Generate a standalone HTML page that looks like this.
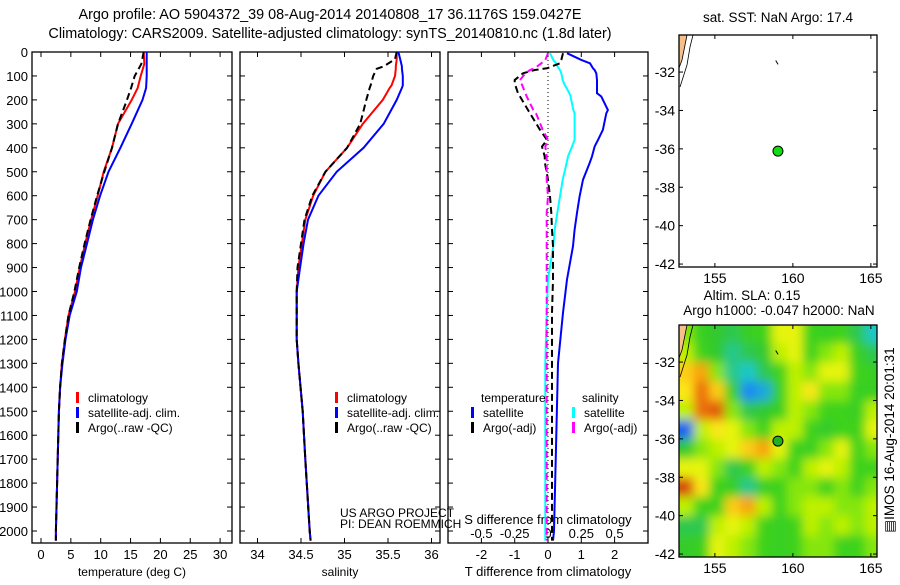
<!DOCTYPE html>
<html><head><meta charset="utf-8"><style>
body{margin:0;background:#fff;width:900px;height:580px;overflow:hidden}
svg text{font-family:"Liberation Sans",sans-serif;font-size:12px;fill:#000}
</style></head><body>
<svg id="c" width="900" height="580" xmlns="http://www.w3.org/2000/svg">
<text x="330" y="19" text-anchor="middle" style="font-size:14.4px">Argo profile: AO 5904372_39 08-Aug-2014 20140808_17 36.1176S 159.0427E</text>
<text x="330" y="38" text-anchor="middle" style="font-size:14.4px">Climatology: CARS2009. Satellite-adjusted climatology: synTS_20140810.nc (1.8d later)</text>
</svg>
<script>
// ---- data ----
const tDepth=[0,50,100,150,200,300,400,500,600,700,800,900,1000,1100,1200,1300,1400,1500,1600,1800,2000,2040];
const tClim=[17.2,17.3,16.7,16.2,15.2,12.9,11.9,10.5,9.5,8.4,7.4,6.5,5.7,4.6,4.0,3.5,3.2,3.0,2.9,2.7,2.5,2.5];
const tSat=[17.7,17.7,17.7,17.6,17.0,15.2,13.3,11.3,9.9,8.7,7.7,6.7,6.0,4.8,4.1,3.6,3.2,3.0,2.9,2.7,2.5,2.5];
const tArgo=[17.2,16.8,15.7,15.1,14.4,12.9,11.9,10.6,9.4,8.3,7.3,6.4,5.6,4.6,4.0,3.5,3.2,3.0,2.9,2.7,2.5,2.5];
const sDepth=[0,30,60,70,100,140,150,200,300,400,500,600,700,800,900,1000,1200,1300,1500,1700,2000,2040];
const sClim=[35.6,35.6,35.59,35.59,35.58,35.54,35.52,35.44,35.21,35.03,34.78,34.64,34.55,34.51,34.47,34.45,34.45,34.47,34.52,34.55,34.6,34.61];
const sSat=[35.62,35.64,35.66,35.66,35.67,35.67,35.66,35.6,35.45,35.22,34.91,34.7,34.58,34.53,34.49,34.45,34.45,34.47,34.52,34.55,34.6,34.61];
const sArgo=[35.6,35.58,35.45,35.37,35.33,35.3,35.29,35.25,35.18,35.03,34.78,34.63,34.54,34.5,34.46,34.45,34.45,34.47,34.52,34.55,34.6,34.61];
const dDepth=[5,33,47,68,75,89,117,131,172,186,242,256,325,367,395,436,464,533,603,672,742,811,950,1089,1300,1600,2000,2040];
const dTsat=[0.57,1.0,1.26,1.35,1.4,1.45,1.47,1.47,1.47,1.6,1.8,1.75,1.65,1.5,1.4,1.32,1.25,1.05,0.95,0.87,0.8,0.75,0.57,0.45,0.3,0.25,0.18,0.15];
const dTargo=[0.45,0.4,0.36,-0.03,-0.4,-0.75,-1.0,-1.0,-0.9,-0.84,-0.6,-0.54,-0.24,-0.03,-0.18,-0.1,-0.09,0.0,0.06,0.1,0.12,0.15,0.15,0.12,0.12,0.12,0.12,0.12];
const dSsat=[0.015,0.04,0.06,0.08,0.09,0.1,0.11,0.12,0.16,0.17,0.19,0.2,0.2,0.2,0.18,0.15,0.14,0.11,0.09,0.07,0.05,0.04,0.0,-0.01,-0.02,-0.02,-0.02,-0.02];
const dSargo=[0.0,-0.02,-0.05,-0.1,-0.135,-0.17,-0.21,-0.2,-0.17,-0.16,-0.11,-0.09,-0.04,0.0,-0.02,-0.01,-0.01,-0.01,0.0,-0.01,-0.01,-0.01,-0.01,-0.01,-0.01,-0.01,-0.01,-0.01];
const depthTicks=[0,100,200,300,400,500,600,700,800,900,1000,1100,1200,1300,1400,1500,1600,1700,1800,1900,2000];
const tTicks=[0,5,10,15,20,25,30];
const sTicks=[34,34.5,35,35.5,36];
const dTticks=[-2,-1,0,1,2];
const dSticks=[-0.5,-0.25,0,0.25,0.5];
const dSlabels=["-0.5","-0.25","0","0.25","0.5"];
const lonTicks=[155,160,165];
const latTicks=[-32,-34,-36,-38,-40,-42];
const argoLon=159.0427, argoLat=-36.1176;
const slaLon0=152.7, slaLat0=-30.07;
const sla=[
[0.2,0,-0.2,-0.3,0,0.1,0.4,0.4,0.1,0,0.1,-0.3,-0.5],
[0.3,0.1,-0.2,-0.4,-0.3,-0.2,0.3,0.4,0.1,0.2,0.3,0,-0.3],
[0.6,0.7,0.2,-0.4,-0.5,-0.3,0.1,0.3,0.2,0.4,0.4,0.1,0],
[0.5,0.8,0.6,0,-0.7,-0.6,0,0.3,0.5,0.2,0.2,0,0],
[0.3,0.8,0.85,0.2,-0.3,-0.2,0,0.3,0.2,0.1,0.1,0,0.3],
[-0.8,0.3,0.5,0.4,0.2,0.1,0.3,0.3,0.1,-0.1,0.1,0.1,0.4],
[-0.2,0.2,0.3,0.4,0.6,0.7,0.4,0.1,0,0.2,0.4,0.1,0.2],
[0.4,0.4,0.2,-0.3,0.1,0.3,0.2,0.1,0.3,0.4,0.3,0.1,0.1],
[0.9,0.5,0.1,0,-0.4,0,0.1,0.2,0.2,0.1,0.2,0.1,0.2],
[0.3,0.1,0.1,0.6,0.7,0.3,0.1,0.2,0.3,0.3,0.2,0.2,0.3],
[-0.3,-0.3,0.3,0.4,0.3,0.1,0,0.1,0.3,0.2,0.3,0.2,0.3],
[-0.1,0,0.4,0.3,0.2,0.1,0,0.1,0.2,0.2,0.1,0.1,0.2]];

const svg=document.getElementById('c');
const NS='http://www.w3.org/2000/svg';
function mk(tag,at,parent){const e=document.createElementNS(NS,tag);for(const k in at)e.setAttribute(k,at[k]);(parent||svg).appendChild(e);return e;}
function txt(x,y,s,anchor,fs){const t=mk('text',{x:x,y:y,'text-anchor':anchor||'start'});t.textContent=s;if(fs)t.style.fontSize=fs+'px';return t;}
const Y0=52,Y1=543;
const yD=d=>Y0+(d)*0.2395;

function panel(x0,x1,xs,name){
  const r=mk('rect',{x:x0,y:Y0,width:x1-x0,height:Y1-Y0,fill:'none',stroke:'#000','stroke-width':1.3});
  
  
  depthTicks.forEach(d=>{const y=yD(d);
    mk('line',{x1:x0,x2:x0+5,y1:y,y2:y,stroke:'#000'});mk('line',{x1:x1,x2:x1-5,y1:y,y2:y,stroke:'#000'});});
}
function line(xs,vals,deps,color,dash,name){
  const pts=vals.map((v,i)=>xs(v).toFixed(1)+','+yD(deps[i]).toFixed(1)).join(' ');
  const p=mk('polyline',{points:pts,fill:'none',stroke:color,'stroke-width':2});
  if(dash)p.setAttribute('stroke-dasharray',dash);
  
  
}
function legend(x,y,color,label,name){
  const r=mk('rect',{x:x,y:y-10,width:3,height:11,fill:color});
  
  
  txt(x+12,y,label);
}
depthTicks.forEach(d=>{txt(28,yD(d)+5,String(d),'end',13);});

// Panel 1 temperature
const xT=v=>41+v*5.97;
panel(32,232,xT,'temperature-panel');
tTicks.forEach(v=>{const x=xT(v);mk('line',{x1:x,x2:x,y1:Y0,y2:Y0+5,stroke:'#000'});mk('line',{x1:x,x2:x,y1:Y1,y2:Y1-5,stroke:'#000'});txt(x,559,String(v),'middle',13);});
line(xT,tClim,tDepth,'#f00',null,'temp-climatology-line');
line(xT,tSat,tDepth,'#00f',null,'temp-satellite-line');
line(xT,tArgo,tDepth,'#000','7,4','temp-argo-line');
legend(76,402,'#f00','climatology','legend-climatology');
legend(76,417,'#00f','satellite-adj. clim.','legend-satellite');
legend(76,432,'#000','Argo(..raw -QC)','legend-argo');
txt(132,576,'temperature (deg C)','middle');

// Panel 2 salinity
const xS=v=>257.5+(v-34)*87;
panel(240,440,xS,'salinity-panel');
sTicks.forEach(v=>{const x=xS(v);mk('line',{x1:x,x2:x,y1:Y0,y2:Y0+5,stroke:'#000'});mk('line',{x1:x,x2:x,y1:Y1,y2:Y1-5,stroke:'#000'});txt(x,559,String(v),'middle',13);});
line(xS,sClim,sDepth,'#f00',null,'sal-climatology-line');
line(xS,sSat,sDepth,'#00f',null,'sal-satellite-line');
line(xS,sArgo,sDepth,'#000','7,4','sal-argo-line');
legend(335,402,'#f00','climatology','legend-climatology-2');
legend(335,417,'#00f','satellite-adj. clim.','legend-satellite-2');
legend(335,432,'#000','Argo(..raw -QC)','legend-argo-2');
txt(340,517,'US ARGO PROJECT');
txt(340,528,'PI: DEAN ROEMMICH');
txt(340,576,'salinity','middle');

// Panel 3 differences
const xDT=v=>548+v*33.3;
const xDS=v=>548+v*133.2;
panel(448,648,xDT,'difference-panel');
mk('line',{x1:548,x2:548,y1:Y0,y2:Y1,stroke:'#000','stroke-dasharray':'1,3'});
dTticks.forEach(v=>{const x=xDT(v);mk('line',{x1:x,x2:x,y1:Y0,y2:Y0+5,stroke:'#000'});mk('line',{x1:x,x2:x,y1:Y1,y2:Y1-5,stroke:'#000'});txt(x,559,String(v),'middle',13);});
dSticks.forEach((v,i)=>{txt(xDS(v),538,dSlabels[i],'middle',13);});
txt(548,524,'S difference from climatology','middle',13);
line(xDT,dTsat,dDepth,'#00f',null,'tdiff-satellite-line');
line(xDS,dSsat,dDepth,'#0ff',null,'sdiff-satellite-line');
line(xDT,dTargo,dDepth,'#000','7,4','tdiff-argo-line');
line(xDS,dSargo,dDepth,'#f0f','7,4','sdiff-argo-line');
txt(481,402,'temperature');txt(582,402,'salinity');
legend(471,417,'#00f','satellite','legend-t-satellite');
legend(471,432,'#000','Argo(-adj)','legend-t-argo');
legend(572,417,'#0ff','satellite','legend-s-satellite');
legend(572,432,'#f0f','Argo(-adj)','legend-s-argo');
txt(548,576,'T difference from climatology','middle',13);

// Maps
const MX0=679,MX1=877;
const mx=lon=>MX0+(lon-slaLon0)*15.6;
function slaColor(v){
  const st=[[-1,[0,0,190]],[-0.75,[30,120,255]],[-0.5,[30,200,200]],[-0.25,[50,200,50]],[0.1,[60,210,30]],[0.25,[170,240,0]],[0.45,[250,245,20]],[0.65,[255,190,20]],[0.8,[235,110,10]],[1,[190,30,10]]];
  if(v<=st[0][0])return 'rgb('+st[0][1]+')';
  for(let i=1;i<st.length;i++){if(v<=st[i][0]){const a=st[i-1],b=st[i],t=(v-a[0])/(b[0]-a[0]);return 'rgb('+a[1].map((c,k)=>Math.round(c+(b[1][k]-c)*t)).join(',')+')';}}
  return 'rgb('+st[st.length-1][1]+')';
}
function map(yTop,name,withSla){
  const yB=yTop+232;
  const my=lat=>yTop+(slaLat0-lat)*19.2;
  const g=mk('g',{});
  
  
  if(withSla){
    mk('rect',{x:MX0,y:yTop,width:MX1-MX0,height:232,fill:'rgb(70,205,40)'},g);
    const cp=mk('clipPath',{id:'cp'+yTop},g);mk('rect',{x:MX0,y:yTop,width:MX1-MX0,height:232},cp);
    const f=mk('filter',{id:'bl'+yTop,x:'-0.1',y:'-0.1',width:'1.2',height:'1.2'},g);mk('feGaussianBlur',{stdDeviation:5},f);
    const gc=mk('g',{'clip-path':'url(#cp'+yTop+')'},g);
    const gi=mk('g',{filter:'url(#bl'+yTop+')'},gc);
    sla.forEach((row,r)=>row.forEach((v,c)=>{
      const x=mx(slaLon0+c)-1, y=my(slaLat0-r)-1;
      const w=17.6+(c==row.length-1?12:0)+(c==0?8:0), h=21.2+(r==sla.length-1?12:0)+(r==0?8:0);
      const cell=mk('rect',{x:c==0?x-8:x,y:r==0?y-8:y,width:w,height:h,fill:slaColor(v)},gi);
      
      
    }));
  }
  mk('path',{d:`M${MX0},${yTop} L${MX0+8},${yTop} L${MX0+5},${yTop+15} L${MX0+3},${yTop+25} L${MX0},${yTop+33} Z`,fill:'#f7c08a',stroke:'none'},g);
  mk('path',{d:`M${MX0+8},${yTop} L${MX0+5},${yTop+15} L${MX0+3},${yTop+25} L${MX0},${yTop+33}`,fill:'none',stroke:'#000','stroke-width':0.8},g);
  mk('path',{d:`M${MX0+14},${yTop} L${MX0+11},${yTop+12} L${MX0+8},${yTop+30} L${MX0+1},${yTop+52}`,fill:'none',stroke:'#000','stroke-width':0.8},g);
  mk('line',{x1:mx(158.9),y1:my(-31.4),x2:mx(159.05),y2:my(-31.6),stroke:'#000','stroke-width':1},g);
  mk('rect',{x:MX0,y:yTop,width:MX1-MX0,height:232,fill:'none',stroke:'#000','stroke-width':1.3},g);
  lonTicks.forEach(l=>{const x=mx(l);mk('line',{x1:x,x2:x,y1:yTop,y2:yTop+4,stroke:'#000'},g);mk('line',{x1:x,x2:x,y1:yB,y2:yB-4,stroke:'#000'},g);txt(x,yB+16,String(l),'middle',14);});
  latTicks.forEach(l=>{const y=my(l);mk('line',{x1:MX0,x2:MX0+4,y1:y,y2:y,stroke:'#000'},g);mk('line',{x1:MX1,x2:MX1-4,y1:y,y2:y,stroke:'#000'},g);txt(MX0-4,y+5,String(l),'end',14);});
  const dot=mk('circle',{cx:mx(argoLon),cy:my(argoLat),r:5,fill:withSla?'#22b022':'#11dd11',stroke:'#000','stroke-width':1},g);
  
  
}
txt(778,22,'sat. SST: NaN Argo: 17.4','middle',13.5);
map(35,'sst-map',false);
txt(752,300,'Altim. SLA: 0.15','middle',13.5);
txt(779,315,'Argo h1000: -0.047 h2000: NaN','middle',13.5);
map(325,'sla-map',true);
const v=txt(0,0,'\u25A4IMOS 16-Aug-2014 20:01:31','middle',13.5);
v.setAttribute('transform','translate(894,440) rotate(-90)');
</script>
</body></html>
